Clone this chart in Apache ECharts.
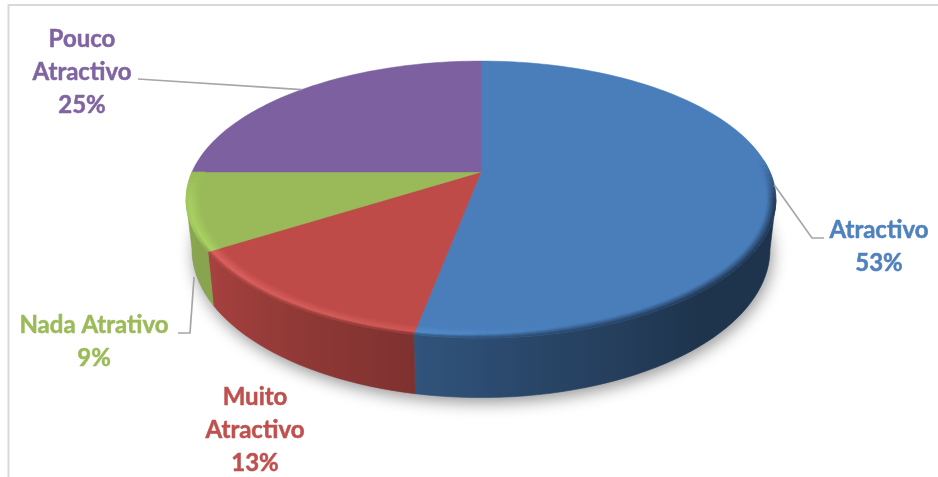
<!DOCTYPE html>
<html>
<head>
<meta charset="utf-8">
<style>html,body{margin:0;padding:0;background:#fff}#chart{width:938px;height:477px}</style>
<script src="https://cdn.jsdelivr.net/npm/echarts@6/dist/echarts.min.js"></script>
</head>
<body>
<div id="chart"></div>
<script>
// Slices, clockwise from twelve o'clock
const categories = ['Atractivo', 'Muito\nAtractivo', 'Nada Atrativo', 'Pouco\nAtractivo'];
const shares = [53, 13, 9, 25];
const textColors = ['#4F81BD', '#C0504D', '#9BBB59', '#8064A2'];
const faceColors = ['#4A7EBB', '#BE4B48', '#9ABA59', '#7D60A0'];
const highlightColors = ['#5FA0E0', '#E86C6A', '#B0DC68', '#9A7CC0'];

// Label centres and leader-line elbows (null: no leader)
const labelCentres = [[879, 247], [255, 430], [94, 342], [82, 72]];
const leaderElbows = [[[812, 238], [824, 238]], null, [[190, 333], [178, 333]], [[138, 79]]];
const leaderDrops = [0, 0, 15, 0];

// Perspective projection of the pie disc
const APEX_X = 481, APEX_Y = 172, HALF_W = 289, HALF_H = 133, TILT = 0.1986;
// Lower rim relative to the upper rim
const RIM_SHIFT = 48, RIM_SCALE_X = 0.98, RIM_SCALE_Y = 1.07;
const SIDE_FROM = 101.5, SIDE_TO = 258.5;

function project(deg, r) {
  const a = deg * Math.PI / 180;
  const X = r * Math.sin(a), Y = r * Math.cos(a), d = 1 + TILT * Y;
  return [APEX_X + HALF_W * X / d, APEX_Y - HALF_H * Y / d];
}
function lower(p) {
  return [APEX_X + (p[0] - APEX_X) * RIM_SCALE_X, APEX_Y + RIM_SHIFT + (p[1] - APEX_Y) * RIM_SCALE_Y];
}
function table(stops, x) {
  if (x <= stops[0][0]) return stops[0][1];
  for (let i = 1; i < stops.length; i++) {
    if (x <= stops[i][0]) {
      const t = (x - stops[i - 1][0]) / (stops[i][0] - stops[i - 1][0]);
      return stops[i - 1][1] + (stops[i][1] - stops[i - 1][1]) * t;
    }
  }
  return stops[stops.length - 1][1];
}
function rgb(hex) { return [1, 3, 5].map(i => parseInt(hex.substr(i, 2), 16)); }
function mix(a, b, t) { return a.map((v, i) => v + (b[i] - v) * t); }
function css(c) { return 'rgb(' + c.map(Math.round).join(',') + ')'; }

// Lighting around the visible wall and the bevelled edge
const wallShade = [[100, 0.40], [140, 0.41], [170, 0.55], [190, 0.66], [237, 0.88], [270, 0.90]];
const bevelLight = [[165, 0], [190, 0.45], [240, 0.75], [258, 0.6], [270, 0]];
const bevelDark = [[85, 0], [102, 0.95], [200, 1], [238, 1], [248, 0.25], [270, 0]];

function quad(pts, color, z2) {
  return { type: 'polygon', z2, shape: { points: pts }, style: { fill: color, stroke: color, lineWidth: 0.7 }, silent: true };
}

function renderSlice(params) {
  const i = params.dataIndex;
  const total = shares.reduce((s, v) => s + v, 0);
  const before = shares.slice(0, i).reduce((s, v) => s + v, 0);
  const from = before / total * 360, to = (before + shares[i]) / total * 360;
  const base = rgb(faceColors[i]), light = rgb(highlightColors[i]);
  const kids = [];

  // Soft shadow under the disc
  if (i === 0) {
    const outline = [];
    for (let a = 0; a < 360; a += 3) outline.push(lower(project(a, 1)));
    kids.push({
      type: 'polygon', z2: 1, shape: { points: outline }, silent: true,
      style: { fill: '#9a9a9a', shadowColor: 'rgba(0,0,0,0.42)', shadowBlur: 16, shadowOffsetX: 2, shadowOffsetY: 5 }
    });
  }

  // Wall: one polygon, shaded left to right along the angle it spans
  const wFrom = Math.max(from, SIDE_FROM), wTo = Math.min(to, SIDE_TO);
  const STEP = 2;
  if (wTo > wFrom) {
    const upper = [], under = [], stops = [];
    const segs = Math.ceil((wTo - wFrom) / STEP);
    const x0 = project(wTo, 1)[0], x1 = project(wFrom, 1)[0];
    for (let k = segs; k >= 0; k--) {
      const a = wFrom + (wTo - wFrom) * k / segs;
      const p = project(a, 1);
      upper.push(p);
      under.unshift(lower(p));
      stops.push({ offset: Math.min(1, Math.max(0, (p[0] - x0) / (x1 - x0))), color: css(base.map(v => v * table(wallShade, a))) });
    }
    const fill = new echarts.graphic.LinearGradient(x0, 0, x1, 0, stops, true);
    kids.push({ type: 'polygon', z2: 2, silent: true, shape: { points: upper.concat(under) }, style: { fill, stroke: fill, lineWidth: 0.6 } });
  }

  // Flat top of the slice
  const top = [[APEX_X, APEX_Y]];
  const n = Math.ceil((to - from) / 1.5);
  for (let k = 0; k <= n; k++) top.push(project(from + (to - from) * k / n, 1));
  kids.push({ type: 'polygon', z2: 3, shape: { points: top }, silent: true, style: { fill: faceColors[i], stroke: faceColors[i], lineWidth: 0.5 } });

  // Bevel: concentric rings that brighten, then fall into the wall colour
  const RINGS = 9, INNER = 0.955;
  const bFrom = Math.max(from, 85), bTo = Math.min(to, 270);
  for (let ring = 0; ring < RINGS; ring++) {
    const r1 = INNER + (1 - INNER) * ring / RINGS, r2 = INNER + (1 - INNER) * (ring + 1) / RINGS;
    const t = (ring + 0.5) / RINGS;
    for (let a = bFrom; a < bTo; a += STEP) {
      const b = Math.min(a + STEP, bTo), m = (a + b) / 2;
      const h = table(bevelLight, m), d = table(bevelDark, m);
      const knee = 0.35 + 0.4 * Math.min(1, h / 0.45);
      const wall = base.map(v => v * table(wallShade, m));
      const peak = mix(base, light, h);
      const c = t < knee ? mix(base, peak, t / knee) : mix(peak, mix(peak, wall, d), (t - knee) / (1 - knee));
      kids.push(quad([project(a, r1), project(b, r1), project(b, r2), project(a, r2)], css(c), 4));
    }
  }

  // Leader line from the slice's middle to its label
  if (leaderElbows[i]) {
    const mid = (from + to) / 2;
    let anchor = project(mid, 1);
    if (leaderDrops[i]) {
      anchor = lower(anchor);
      anchor = [anchor[0] + 1, anchor[1] + leaderDrops[i]];
    }
    kids.push({
      type: 'polyline', z2: 5, silent: true,
      shape: { points: [anchor].concat(leaderElbows[i]) },
      style: { stroke: '#a6a6a6', lineWidth: 1.7, fill: null }
    });
  }

  // Category and share
  kids.push({
    type: 'text', z2: 6, silent: true,
    style: {
      x: labelCentres[i][0], y: labelCentres[i][1],
      text: categories[i] + '\n' + shares[i] + '%',
      fill: textColors[i], stroke: textColors[i], lineWidth: 0.5,
      font: 'bold 24px Lato', lineHeight: 33,
      align: 'center', verticalAlign: 'middle'
    }
  });
  return { type: 'group', children: kids };
}

const chart = echarts.init(document.getElementById('chart'), null, { renderer: 'canvas' });
chart.setOption({
  animation: false,
  backgroundColor: '#ffffff',
  graphic: [
    { type: 'polyline', silent: true, shape: { points: [[8.5, 477], [8.5, 5], [938, 5]] }, style: { stroke: '#d9d9d9', lineWidth: 2, fill: null } }
  ],
  series: [{
    type: 'custom',
    coordinateSystem: 'none',
    silent: true,
    renderItem: renderSlice,
    data: shares
  }]
});
</script>
</body>
</html>
